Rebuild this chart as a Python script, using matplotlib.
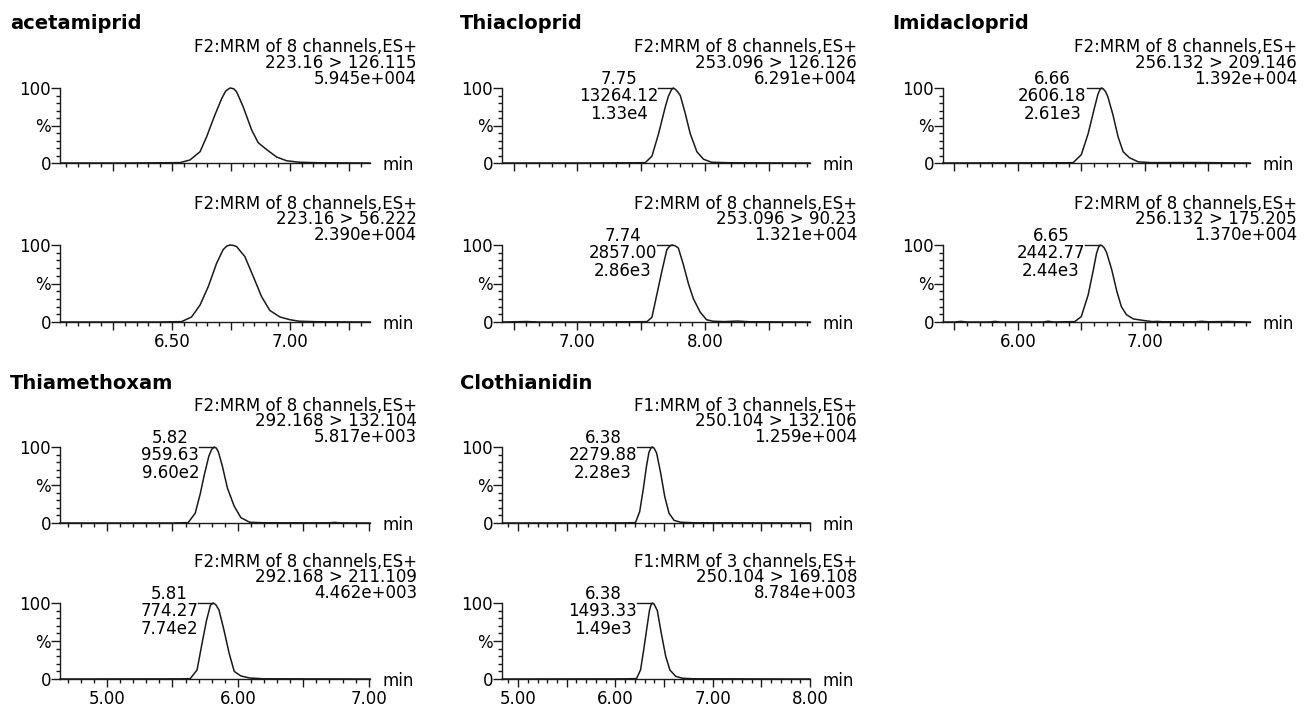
import matplotlib
matplotlib.use("Agg")
import matplotlib.pyplot as plt
from matplotlib.ticker import FixedLocator, MultipleLocator

# --- 1. DATA (time in min, intensity in % of channel max) ---
ACET_126_T = [6.03, 6.30, 6.45, 6.534, 6.576, 6.619, 6.647, 6.682, 6.711, 6.728, 6.746, 6.762,
              6.774, 6.802, 6.838, 6.866, 6.901, 6.944, 6.986, 7.04, 7.127, 7.34]
ACET_126_I = [0, 0, 0.3, 0.5, 4, 15, 35, 64, 86, 96, 100, 99, 95, 75, 44, 27, 18, 8, 3, 1, 0.3, 0]
ACET_56_T = [6.03, 6.45, 6.541, 6.583, 6.619, 6.654, 6.689, 6.717, 6.732, 6.746, 6.760, 6.774,
             6.809, 6.845, 6.880, 6.915, 6.958, 7.0, 7.04, 7.12, 7.34]
ACET_56_I = [0, 0, 0.5, 6.5, 22, 46, 76, 94, 98.5, 100, 99.5, 98, 85, 59, 33, 15, 6.5, 3, 1, 0.3, 0]

THIA_126_T = [6.42, 7.0, 7.45, 7.531, 7.583, 7.635, 7.688, 7.712, 7.735, 7.75, 7.765, 7.785, 7.805,
              7.844, 7.883, 7.935, 7.987, 8.05, 8.2, 8.82]
THIA_126_I = [0, 0, 0.3, 0.5, 9, 39, 75, 89, 97.5, 100, 98.5, 95, 90, 66, 39, 15, 5, 1, 0.3, 0]
THIA_90_T = [6.42, 6.6, 6.7, 7.0, 7.45, 7.544, 7.583, 7.622, 7.661, 7.70, 7.722, 7.74, 7.765, 7.79,
             7.83, 7.87, 7.908, 7.96, 8.01, 8.06, 8.15, 8.25, 8.35, 8.82]
THIA_90_I = [0, 0.6, 0, 0, 0.3, 0.5, 6, 36, 66, 94, 98.5, 100, 99, 96, 74, 49, 30, 13, 3, 1, 0.5,
             1.2, 0.3, 0]

IMI_209_T = [5.41, 6.0, 6.38, 6.436, 6.50, 6.554, 6.606, 6.632, 6.648, 6.66, 6.675, 6.692, 6.71,
             6.75, 6.79, 6.83, 6.88, 6.95, 7.05, 7.4, 7.83]
IMI_209_I = [0, 0.2, 0.3, 0.5, 11, 39, 75, 92, 98, 100, 98.5, 95, 88, 64, 35, 15, 7, 1.5, 0.5, 0.6, 0]
IMI_175_T = [5.41, 5.50, 5.55, 5.60, 5.78, 5.82, 5.86, 6.20, 6.24, 6.28, 6.449, 6.50, 6.554,
             6.593, 6.620, 6.637, 6.65, 6.665, 6.682, 6.70, 6.74, 6.78, 6.816, 6.856, 6.91, 6.99,
             7.06, 7.10, 7.14, 7.40, 7.45, 7.50, 7.65, 7.83]
IMI_175_I = [0, 0, 0.8, 0, 0, 0.8, 0, 0, 1.0, 0, 0.5, 7, 35, 66, 89, 97.5, 100, 99, 96, 90, 68,
             40, 20, 9.5, 4, 2, 0.5, 0.8, 0.3, 0.3, 0.9, 0.3, 0.6, 0]

TMX_132_T = [4.64, 5.5, 5.62, 5.674, 5.713, 5.744, 5.778, 5.80, 5.82, 5.835, 5.85, 5.881, 5.92,
             5.972, 6.023, 6.09, 6.2, 6.70, 6.74, 6.78, 7.01]
TMX_132_I = [0, 0, 0.5, 13, 39, 64, 88, 97, 100, 98.5, 94, 75, 46, 22, 7, 1, 0.3, 0.2, 0.8, 0.2, 0]
TMX_211_T = [4.64, 5.55, 5.636, 5.688, 5.726, 5.76, 5.79, 5.81, 5.83, 5.855, 5.894, 5.933, 5.972,
             6.023, 6.09, 6.2, 7.01]
TMX_211_I = [0, 0.2, 0.5, 12, 47, 77, 97, 100, 98, 91, 64, 34, 10, 4, 1.3, 0.3, 0]

CLO_132_T = [4.84, 6.1, 6.207, 6.25, 6.286, 6.32, 6.345, 6.365, 6.38, 6.398, 6.424, 6.465, 6.507,
             6.551, 6.603, 6.67, 6.8, 8.0]
CLO_132_I = [0, 0.2, 0.5, 15, 44, 75, 93, 98.5, 100, 98.5, 92, 66, 35, 13, 3.5, 1, 0.3, 0]
CLO_169_T = [4.84, 6.1, 6.217, 6.259, 6.293, 6.328, 6.350, 6.366, 6.38, 6.398, 6.431, 6.472, 6.517,
             6.56, 6.62, 6.69, 6.8, 8.0]
CLO_169_I = [0, 0.2, 0.5, 12, 40, 71, 90, 97.5, 100, 98.5, 90, 60, 30, 12, 3.5, 1, 0.3, 0]

COMPOUNDS = ["acetamiprid", "Thiacloprid", "Imidacloprid", "Thiamethoxam", "Clothianidin"]
FUNCS = ["F2:MRM of 8 channels,ES+"] * 4 + ["F1:MRM of 3 channels,ES+"]
TRANSITIONS = [("223.16 > 126.115", "223.16 > 56.222"),
               ("253.096 > 126.126", "253.096 > 90.23"),
               ("256.132 > 209.146", "256.132 > 175.205"),
               ("292.168 > 132.104", "292.168 > 211.109"),
               ("250.104 > 132.106", "250.104 > 169.108")]
MAX_INT = [("5.945e+004", "2.390e+004"),
           ("6.291e+004", "1.321e+004"),
           ("1.392e+004", "1.370e+004"),
           ("5.817e+003", "4.462e+003"),
           ("1.259e+004", "8.784e+003")]
# peak labels: retention time, area, height
PEAKS = [None,
         ((7.75, "13264.12", "1.33e4"), (7.74, "2857.00", "2.86e3")),
         ((6.66, "2606.18", "2.61e3"), (6.65, "2442.77", "2.44e3")),
         ((5.82, "959.63", "9.60e2"), (5.81, "774.27", "7.74e2")),
         ((6.38, "2279.88", "2.28e3"), (6.38, "1493.33", "1.49e3"))]
TRACES = [((ACET_126_T, ACET_126_I), (ACET_56_T, ACET_56_I)),
          ((THIA_126_T, THIA_126_I), (THIA_90_T, THIA_90_I)),
          ((IMI_209_T, IMI_209_I), (IMI_175_T, IMI_175_I)),
          ((TMX_132_T, TMX_132_I), (TMX_211_T, TMX_211_I)),
          ((CLO_132_T, CLO_132_I), (CLO_169_T, CLO_169_I))]

# x axis: limits, major ticks, labelled ticks, minor step
XAXES = [((6.025, 7.34), [6.25, 6.50, 6.75, 7.00, 7.25], [6.50, 7.00], 0.05),
         ((6.41, 8.82), [6.5, 7.0, 7.5, 8.0, 8.5], [7.0, 8.0], 0.1),
         ((5.41, 7.83), [5.5, 6.0, 6.5, 7.0, 7.5], [6.0, 7.0], 0.1),
         ((4.64, 7.01), [5.0, 5.5, 6.0, 6.5, 7.0], [5.0, 6.0, 7.0], 0.1),
         ((4.835, 8.0), [5.0, 5.5, 6.0, 6.5, 7.0, 7.5, 8.0], [5.0, 6.0, 7.0, 8.0], 0.1)]

# --- 2. LAYOUT (pixels) ---
W, H = 1311, 707
COL_L = [60, 502, 943]
COL_R = [370, 810, 1250]
TITLE_X = [10, 460, 892]
ROW_Y100 = [88, 245, 447, 603]
ROW_Y0 = [163, 322, 523, 679]
TITLE_BASE = [29, 389]
POS = [(0, 0), (1, 0), (2, 0), (0, 1), (1, 1)]
LINE_C = "#1a1a1a"


def fx(x):
    return x / W


def fy(y):
    return 1 - y / H


def px2pt(p):
    return p * 72 / 100


fig = plt.figure(figsize=(W / 100, H / 100), dpi=100)
plt.rcParams['font.size'] = 12

for k, name in enumerate(COMPOUNDS):
    col, grp = POS[k]
    (x0, x1), majors, labelled, mstep = XAXES[k]
    fig.text(fx(TITLE_X[col]), fy(TITLE_BASE[grp]), name, fontsize=14, fontweight='bold',
             va='baseline', ha='left')

    for j in range(2):
        row = grp * 2 + j
        left, right = COL_L[col], COL_R[col]
        y100, y0 = ROW_Y100[row], ROW_Y0[row]
        ax = fig.add_axes([fx(left), fy(y0), (right - left) / W, (y0 - y100) / H])
        t, inten = TRACES[k][j]
        ax.plot(t, inten, color=LINE_C, lw=1.1, clip_on=False)
        ax.set_xlim(x0, x1)
        ax.set_ylim(0, 100)

        for s in ['top', 'right']:
            ax.spines[s].set_visible(False)
        for s in ['left', 'bottom']:
            ax.spines[s].set_linewidth(1.0)
            ax.spines[s].set_color(LINE_C)

        ax.xaxis.set_major_locator(FixedLocator(majors))
        ax.xaxis.set_minor_locator(MultipleLocator(mstep))
        if j == 1:
            ax.set_xticklabels([f"{v:.2f}" if v in labelled else "" for v in majors])
        else:
            ax.set_xticklabels([""] * len(majors))
        ax.set_yticks([0, 50, 100])
        ax.set_yticklabels(["0", "%", "100"])
        ax.yaxis.set_minor_locator(FixedLocator([10, 20, 30, 40, 60, 70, 80, 90]))
        ax.tick_params(axis='x', which='major', length=px2pt(8), width=1.0, pad=px2pt(3),
                       labelsize=12, color=LINE_C)
        ax.tick_params(axis='x', which='minor', length=px2pt(4), width=1.0, color=LINE_C)
        ax.tick_params(axis='y', which='major', length=px2pt(9), width=1.0, pad=0,
                       labelsize=12, color=LINE_C)
        ax.tick_params(axis='y', which='minor', length=px2pt(4), width=1.0, color=LINE_C)

        # header block, right aligned
        head = [FUNCS[k], TRANSITIONS[k][j], MAX_INT[k][j]]
        for line, off in zip(head, [-36, -20.5, -4.5]):
            fig.text(fx(right + 47), fy(y100 + off), line, ha='right', va='baseline', fontsize=12)

        fig.text(fx(right + 12), fy(y0 + 7), "min", ha='left', va='baseline', fontsize=12)

        # peak label with leader line
        if PEAKS[k] is not None:
            rt, area, height = PEAKS[k][j]
            ppm = (right - left) / (x1 - x0)
            ax.plot([rt - 15 / ppm, rt], [100, 100], color=LINE_C, lw=1.0, clip_on=False)
            ax.annotate(f"{rt:.2f}\n{area}\n{height}", xy=(rt, 100), xytext=(-15, -31),
                        textcoords='offset pixels', ha='right', va='baseline',
                        multialignment='center', linespacing=0.98, fontsize=12)

fig.savefig("out.png", dpi=100)
